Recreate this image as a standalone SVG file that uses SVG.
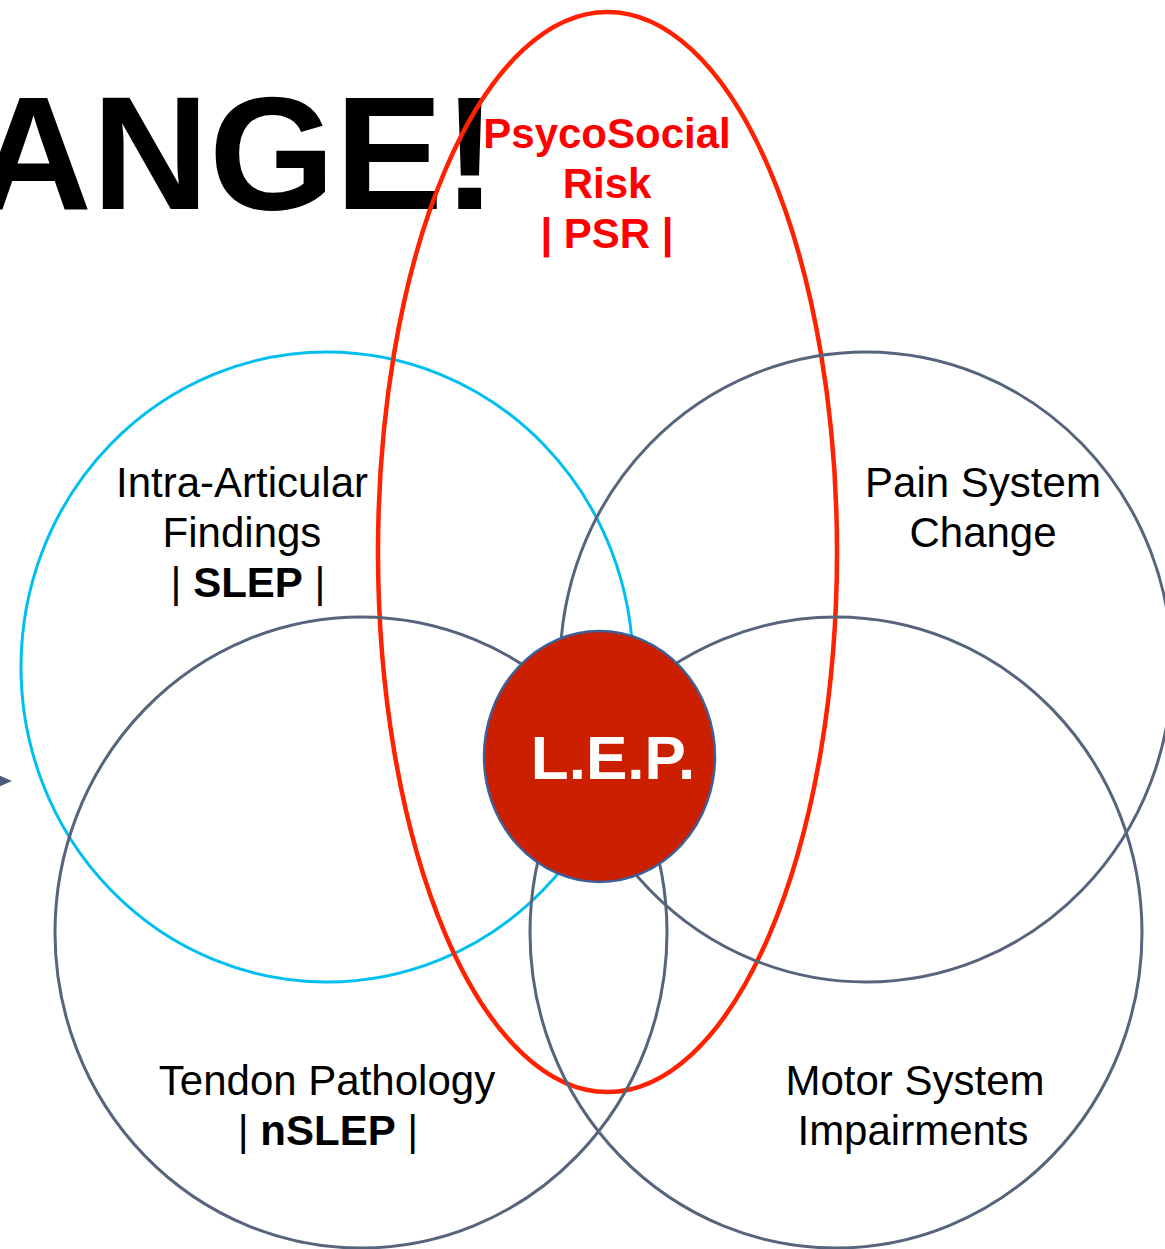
<svg xmlns="http://www.w3.org/2000/svg" width="1165" height="1249" viewBox="0 0 1165 1249">
<style>
.t{font-family:"Liberation Sans",Arial,sans-serif;font-size:42px;fill:#000;text-anchor:middle}
.b{font-weight:bold}
.gray{fill:none;stroke:#56657c;stroke-width:3}
.cyan{fill:none;stroke:#00bff0;stroke-width:3}
.red{fill:none;stroke:#ff2200;stroke-width:4.5}
</style>
<rect width="1165" height="1249" fill="#fff"/>
<text x="497" y="209" style="font-family:'Liberation Sans',Arial,sans-serif;font-weight:bold;font-size:162px;text-anchor:end;fill:#000">ANGE!</text>
<g id="connectors">
<polygon points="12,781 -2,775 -2,787" fill="#4a5a7a"/>
</g>
<g id="intra-articular">
<ellipse class="cyan" cx="327" cy="667" rx="306" ry="315"/>
<text class="t" x="242" y="497">Intra-Articular</text>
<text class="t" x="242" y="547">Findings</text>
<text class="t" x="248" y="597">| <tspan class="b">SLEP</tspan> |</text>
</g>
<g id="psycosocial">
<ellipse class="red" cx="607.5" cy="552" rx="229.5" ry="540"/>
<text class="t b" x="607" y="148" style="fill:#ff0000">PsycoSocial</text>
<text class="t b" x="607" y="198" style="fill:#ff0000">Risk</text>
<text class="t b" x="607" y="248" style="fill:#ff0000">| PSR |</text>
</g>
<g id="pain-system">
<ellipse class="gray" cx="866" cy="667" rx="306" ry="315"/>
<text class="t" x="983" y="497">Pain System</text>
<text class="t" x="983" y="547">Change</text>
</g>
<g id="tendon">
<ellipse class="gray" cx="361" cy="932.5" rx="306" ry="315.5"/>
<text class="t" x="327" y="1095">Tendon Pathology</text>
<text class="t" x="328" y="1145">| <tspan class="b">nSLEP</tspan> |</text>
</g>
<g id="motor">
<ellipse class="gray" cx="836" cy="932.5" rx="306" ry="315.5"/>
<text class="t" x="915" y="1095">Motor System</text>
<text class="t" x="913" y="1145">Impairments</text>
</g>
<g id="lep">
<ellipse cx="599.5" cy="756.5" rx="115.5" ry="125.5" fill="#cc1f00" stroke="#3d6098" stroke-width="2.5"/>
<text x="613" y="779" style="font-family:'Liberation Sans',Arial,sans-serif;font-weight:bold;font-size:62px;fill:#fff;text-anchor:middle">L.E.P.</text>
</g>
</svg>
